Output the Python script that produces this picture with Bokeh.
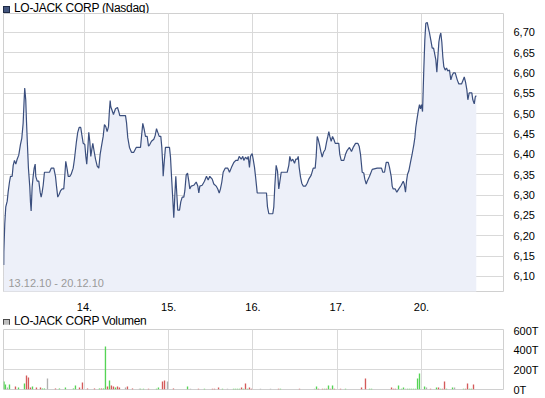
from bokeh.plotting import figure
from bokeh.layouts import column
from bokeh.models import Div, FixedTicker, CustomJSTickFormatter, Label, Range1d
from bokeh.embed import file_html
from bokeh.resources import INLINE

# ---------------- data ----------------
title_main = "LO-JACK CORP (Nasdaq)"
title_vol = "LO-JACK CORP Volumen"
date_span = "13.12.10 - 20.12.10"

day_ticks = [1, 2, 3, 4, 5]
day_labels = ["14.", "15.", "16.", "17.", "20."]
price_ticks = [6.10, 6.15, 6.20, 6.25, 6.30, 6.35, 6.40, 6.45, 6.50, 6.55, 6.60, 6.65, 6.70]
vol_ticks = [0, 200, 400, 600]

# time in trading days since 13.12.10 open, price in USD
times = [
    0.042, 0.043, 0.054, 0.066, 0.083, 0.094, 0.110, 0.122, 0.142, 0.154,
    0.169, 0.185, 0.201, 0.220, 0.240, 0.256, 0.272, 0.284, 0.291, 0.303,
    0.312, 0.323, 0.335, 0.351, 0.359, 0.367, 0.379, 0.391, 0.403, 0.415,
    0.422, 0.439, 0.458, 0.474, 0.486, 0.498, 0.510, 0.525, 0.585, 0.605,
    0.636, 0.656, 0.668, 0.683, 0.700, 0.715, 0.735, 0.754, 0.766, 0.778,
    0.795, 0.807, 0.826, 0.842, 0.866, 0.881, 0.893, 0.905, 0.920, 0.937,
    0.956, 0.968, 0.985,
    1.004, 1.016, 1.027, 1.039, 1.051, 1.063, 1.075, 1.087, 1.099, 1.115,
    1.131, 1.151, 1.170, 1.186, 1.202, 1.222, 1.237, 1.253, 1.269, 1.285,
    1.297, 1.305, 1.312, 1.324, 1.344, 1.368, 1.392, 1.407, 1.419, 1.487,
    1.499, 1.514, 1.534, 1.558, 1.585, 1.614, 1.665, 1.677, 1.692, 1.709,
    1.724, 1.744, 1.760, 1.775, 1.795, 1.823, 1.839, 1.855, 1.870, 1.887,
    1.906, 1.918, 1.930, 1.934, 1.946, 1.961,
    2.009, 2.021, 2.033, 2.045, 2.053, 2.060, 2.072, 2.084, 2.096, 2.107,
    2.128, 2.143, 2.160, 2.179, 2.191, 2.207, 2.223, 2.238, 2.250, 2.267,
    2.297, 2.326, 2.345, 2.357, 2.369, 2.397, 2.424, 2.448, 2.468, 2.487,
    2.516, 2.535, 2.563, 2.582, 2.599, 2.614, 2.630, 2.646, 2.670, 2.701,
    2.721, 2.745, 2.772, 2.796, 2.820, 2.836, 2.860, 2.879, 2.891, 2.911,
    2.931, 2.943, 2.958, 2.970, 2.990,
    3.002, 3.018, 3.030, 3.042, 3.050, 3.160, 3.172, 3.188, 3.235, 3.247,
    3.259, 3.275, 3.291, 3.306, 3.318, 3.335, 3.406, 3.425, 3.437, 3.453,
    3.472, 3.493, 3.508, 3.525, 3.537, 3.548, 3.564, 3.579, 3.596, 3.623,
    3.643, 3.662, 3.691, 3.715, 3.738, 3.750, 3.762, 3.774, 3.789, 3.805,
    3.821, 3.837, 3.857, 3.872, 3.888, 3.900, 3.912, 3.928, 3.944, 3.959,
    3.976,
    4.018, 4.030, 4.047, 4.078, 4.098, 4.118, 4.145, 4.169, 4.189, 4.217,
    4.244, 4.260, 4.276, 4.296, 4.315, 4.327, 4.344, 4.355, 4.383, 4.415,
    4.474, 4.525, 4.541, 4.561, 4.581, 4.605, 4.620, 4.640, 4.652, 4.664,
    4.688, 4.707, 4.731, 4.759, 4.783, 4.795, 4.810, 4.822, 4.834, 4.849,
    4.869, 4.890, 4.909, 4.921, 4.932, 4.949, 4.964, 4.976, 4.988,
    5.000, 5.012, 5.020, 5.027, 5.039, 5.051, 5.068, 5.080, 5.095, 5.111,
    5.127, 5.143, 5.154, 5.170, 5.182, 5.194, 5.206, 5.217, 5.229, 5.241,
    5.253, 5.265, 5.281, 5.297, 5.312, 5.332, 5.348, 5.365, 5.380, 5.400,
    5.424, 5.443, 5.475, 5.495, 5.507, 5.522, 5.538, 5.550, 5.566, 5.582,
    5.597, 5.609, 5.626, 5.638, 5.650,
]
prices = [
    6.128, 6.161, 6.229, 6.271, 6.285, 6.307, 6.332, 6.346, 6.346, 6.373,
    6.385, 6.376, 6.388, 6.398, 6.424, 6.439, 6.476, 6.534, 6.563, 6.534,
    6.480, 6.424, 6.366, 6.320, 6.283, 6.261, 6.320, 6.346, 6.366, 6.376,
    6.346, 6.334, 6.334, 6.307, 6.295, 6.307, 6.324, 6.356, 6.356, 6.366,
    6.366, 6.346, 6.322, 6.295, 6.302, 6.310, 6.315, 6.315, 6.346, 6.383,
    6.363, 6.346, 6.346, 6.351, 6.366, 6.388, 6.410, 6.432, 6.454, 6.466,
    6.466, 6.449, 6.427,
    6.424, 6.395, 6.376, 6.412, 6.454, 6.432, 6.395, 6.412, 6.427, 6.407,
    6.388, 6.371, 6.366, 6.400, 6.420, 6.444, 6.473, 6.468, 6.456, 6.468,
    6.510, 6.532, 6.517, 6.510, 6.498, 6.512, 6.515, 6.505, 6.495, 6.495,
    6.478, 6.441, 6.417, 6.405, 6.405, 6.417, 6.417, 6.444, 6.476, 6.461,
    6.444, 6.444, 6.420, 6.424, 6.432, 6.437, 6.446, 6.463, 6.454, 6.444,
    6.444, 6.417, 6.371, 6.346, 6.380, 6.417,
    6.417, 6.393, 6.346, 6.302, 6.271, 6.244, 6.298, 6.346, 6.302, 6.263,
    6.263, 6.283, 6.295, 6.295, 6.310, 6.349, 6.354, 6.334, 6.315, 6.322,
    6.324, 6.332, 6.322, 6.305, 6.322, 6.324, 6.334, 6.346, 6.337, 6.346,
    6.339, 6.327, 6.322, 6.315, 6.305, 6.315, 6.332, 6.356, 6.366, 6.366,
    6.356, 6.368, 6.380, 6.385, 6.385, 6.395, 6.388, 6.395, 6.385, 6.393,
    6.388, 6.395, 6.368, 6.395, 6.402,
    6.388, 6.368, 6.346, 6.322, 6.305, 6.305, 6.271, 6.254, 6.254, 6.271,
    6.322, 6.373, 6.359, 6.315, 6.332, 6.356, 6.356, 6.373, 6.395, 6.383,
    6.388, 6.378, 6.388, 6.388, 6.395, 6.368, 6.344, 6.329, 6.322, 6.322,
    6.329, 6.339, 6.349, 6.366, 6.366, 6.395, 6.444, 6.437, 6.424, 6.407,
    6.393, 6.405, 6.412, 6.429, 6.444, 6.456, 6.444, 6.432, 6.444, 6.437,
    6.427,
    6.427, 6.400, 6.385, 6.385, 6.400, 6.410, 6.417, 6.407, 6.417, 6.427,
    6.427, 6.420, 6.400, 6.356, 6.354, 6.339, 6.327, 6.334, 6.346, 6.363,
    6.366, 6.366, 6.356, 6.356, 6.380, 6.380, 6.368, 6.346, 6.322, 6.315,
    6.315, 6.307, 6.315, 6.324, 6.334, 6.327, 6.307, 6.334, 6.351, 6.359,
    6.380, 6.402, 6.424, 6.441, 6.466, 6.490, 6.510, 6.522, 6.512,
    6.522, 6.505, 6.559, 6.607, 6.680, 6.722, 6.724, 6.712, 6.698, 6.680,
    6.661, 6.661, 6.649, 6.632, 6.602, 6.639, 6.676, 6.690, 6.698, 6.676,
    6.639, 6.615, 6.607, 6.612, 6.605, 6.607, 6.583, 6.595, 6.600, 6.600,
    6.583, 6.573, 6.573, 6.583, 6.590, 6.578, 6.559, 6.534, 6.551, 6.551,
    6.551, 6.534, 6.524, 6.541, 6.544,
]

# volume in thousands of shares, split by tick direction
vol_up_t = [0.045, 0.062, 0.110, 0.217, 0.288, 0.383, 0.501, 0.525, 0.703, 0.774,
            0.869, 0.893, 1.178, 1.226, 1.249, 1.297, 1.368, 1.665, 1.700, 1.855,
            1.878, 2.223, 2.424, 2.638, 2.769, 2.792, 2.816, 2.840, 2.887, 2.935,
            3.326, 3.754, 3.849, 3.896, 3.944, 4.098, 4.383, 4.407, 4.727, 4.763,
            4.786, 4.834, 4.858, 4.881, 4.905, 4.929, 4.953, 4.976, 5.036, 5.178,
            5.226, 5.297, 5.368, 5.498, 5.570, 5.593]
vol_up_v = [80, 50, 50, 20, 60, 30, 10, 10, 10, 20,
            10, 40, 10, 10, 430, 90, 20, 8, 8, 8,
            20, 30, 8, 8, 8, 8, 8, 8, 8, 8,
            8, 30, 8, 40, 40, 8, 8, 8, 40, 8,
            20, 8, 8, 8, 8, 8, 110, 160, 30, 20,
            8, 8, 20, 8, 8, 8]
vol_down_t = [0.181, 0.312, 0.335, 0.359, 0.430, 0.478, 0.656, 0.941, 0.976, 1.036,
              1.119, 1.202, 1.273, 1.320, 1.344, 1.392, 1.415, 1.510, 1.570, 1.760,
              1.926, 1.950, 2.056, 2.353, 2.519, 2.543, 2.591, 2.864, 2.911, 2.958,
              2.982, 3.303, 3.552, 3.777, 3.825, 3.872, 3.920, 3.967, 4.039, 4.288,
              4.335, 4.644, 4.668, 4.691, 5.107, 5.202, 5.249, 5.273, 5.522, 5.546,
              5.617]
vol_down_v = [30, 140, 120, 20, 20, 20, 10, 20, 70, 10,
              10, 10, 30, 40, 30, 30, 20, 30, 10, 8,
              80, 90, 10, 8, 8, 8, 20, 20, 60, 20,
              8, 8, 8, 8, 8, 8, 8, 8, 8, 20,
              110, 20, 8, 8, 8, 20, 8, 80, 8, 60,
              50]
vol_flat_t = [0.086, 0.561, 1.487, 1.653, 1.985, 2.258, 2.697, 3.089, 3.208, 3.730,
              4.810, 5.059, 5.392]
vol_flat_v = [20, 110, 20, 8, 80, 8, 8, 8, 8, 8,
              8, 20, 20]

# ---------------- styling ----------------
FONT = "Liberation Sans"
LINE = "#3b4f7e"
FILL = "#edf0f9"
GRID = "#d9d9d9"
X_START, X_END = 0.039, 5.973
Y_START, Y_END = 6.063, 6.746
W = 545

def style(p):
    p.outline_line_color = "#d0d0d0"
    p.background_fill_color = "white"
    p.border_fill_color = "white"
    p.xgrid.ticker = FixedTicker(ticks=day_ticks)
    p.xgrid.grid_line_color = GRID
    p.ygrid.grid_line_color = GRID
    for ax in p.yaxis:
        ax.axis_line_color = None
        ax.major_tick_line_color = None
        ax.minor_tick_line_color = None
        ax.major_label_standoff = 4
        ax.major_label_text_font = FONT
        ax.major_label_text_font_size = "11px"
        ax.major_label_text_color = "#000000"

def heading(text, sq_fill, sq_border, h, lh):
    return Div(
        text=(f'<div style="font-family:\'{FONT}\';font-size:12px;line-height:{lh}px;'
              f'color:#000;white-space:nowrap;letter-spacing:-0.3px;padding-left:3px">'
              f'<span style="display:inline-block;width:7px;height:7px;background:{sq_fill};'
              f'border:1px solid {sq_border};margin-right:4px;vertical-align:-1px"></span>'
              f'{text}</div>'),
        width=W, height=h, margin=0)

# ---------------- main price chart ----------------
p1 = figure(width=W, height=300, output_backend="svg", toolbar_location=None,
            x_range=Range1d(X_START, X_END), y_range=Range1d(Y_START, Y_END),
            y_axis_location="right", min_border=0, min_border_left=3,
            min_border_right=42, min_border_bottom=20)
style(p1)
p1.yaxis.ticker = FixedTicker(ticks=price_ticks)
p1.yaxis.formatter = CustomJSTickFormatter(code="return tick.toFixed(2).replace('.', ',')")
p1.ygrid.ticker = FixedTicker(ticks=price_ticks)
p1.xaxis.ticker = FixedTicker(ticks=day_ticks)
p1.xaxis.major_label_overrides = {t: lab for t, lab in zip(day_ticks, day_labels)}
p1.xaxis.axis_line_color = None
p1.xaxis.major_tick_line_color = None
p1.xaxis.minor_tick_line_color = None
p1.xaxis.major_label_standoff = 5
p1.xaxis.major_label_text_font = FONT
p1.xaxis.major_label_text_font_size = "11px"
p1.xaxis.major_label_text_color = "#000000"

p1.varea(x=times, y1=Y_START - 0.1, y2=prices, fill_color=FILL)
p1.line(x=times, y=prices, line_color=LINE, line_width=1.2)
p1.add_layout(Label(x=5, y=3, x_units="screen", y_units="screen", text=date_span,
                    text_color="#9a9a9a", text_font=FONT, text_font_size="11px",
                    text_baseline="bottom"))

# ---------------- volume chart ----------------
p2 = figure(width=W, height=73, output_backend="svg", toolbar_location=None,
            x_range=p1.x_range, y_range=Range1d(0, 600),
            y_axis_location="right", min_border=0, min_border_left=3,
            min_border_right=42, min_border_top=5, min_border_bottom=8)
style(p2)
p2.xaxis.visible = False
p2.yaxis.ticker = FixedTicker(ticks=vol_ticks)
p2.yaxis.formatter = CustomJSTickFormatter(code="return tick.toFixed(0) + 'T'")
p2.ygrid.ticker = FixedTicker(ticks=vol_ticks)
BW = 0.016
p2.vbar(x=vol_up_t, top=vol_up_v, bottom=0, width=BW, fill_color="#55d455", line_color=None)
p2.vbar(x=vol_down_t, top=vol_down_v, bottom=0, width=BW, fill_color="#d45a5a", line_color=None)
p2.vbar(x=vol_flat_t, top=vol_flat_v, bottom=0, width=BW, fill_color="#b0b0b0", line_color=None)

layout = column(heading(title_main, "#44567f", "#1e2a45", 13, 15), p1,
                heading(title_vol, "#c0c0c0", "#4a4a4a", 11, 14), p2, spacing=0)

open("out.html", "w").write(file_html(layout, INLINE))
